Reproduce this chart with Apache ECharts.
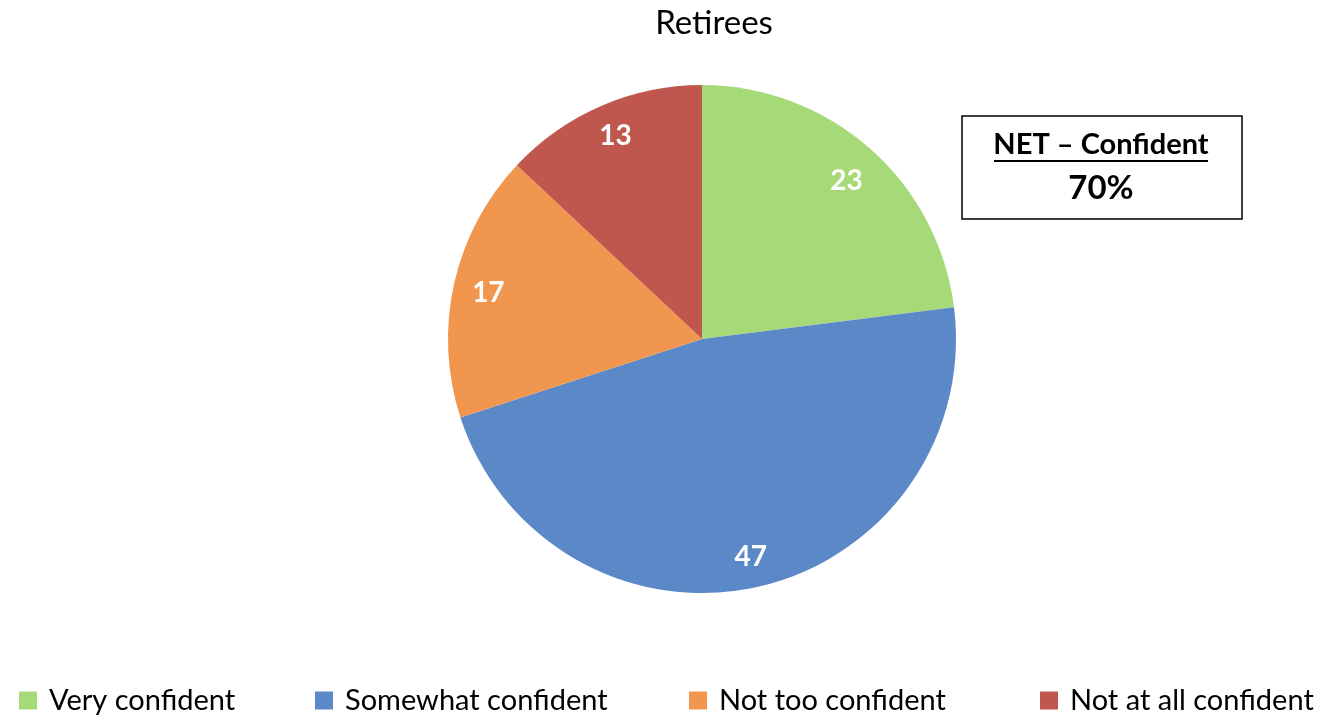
<!DOCTYPE html>
<html>
<head>
<meta charset="utf-8">
<script src="https://cdn.jsdelivr.net/npm/echarts@6/dist/echarts.min.js"></script>
<style>
html,body{margin:0;padding:0;background:#fff;}
#chart{width:1326px;height:716px;}
</style>
</head>
<body>
<div id="chart"></div>
<script>
const categories = ['Very confident', 'Somewhat confident', 'Not too confident', 'Not at all confident'];
const values = [23, 47, 17, 13];
const colors = ['#A6DA78', '#5B89C8', '#F0964F', '#C0574F'];
const titleText = 'Retirees';
const netLabel = 'NET – Confident';
const netValue = '70%';

const FONT = 'Lato, "Open Sans", sans-serif';
const chart = echarts.init(document.getElementById('chart'), null, {renderer: 'canvas'});

const pieData = categories.map((c, i) => ({name: c, value: values[i], itemStyle: {color: colors[i]}}));
const legendLefts = [14, 310, 684, 1035];
const labelOffsets = [[-3, 9], [0, 0], [4, 3], [2, 2]];

const option = {
  animation: false,
  title: {
    text: titleText, left: 709, top: 2, textAlign: 'center',
    textStyle: {fontFamily: FONT, fontSize: 33, fontWeight: 'normal', color: '#000'}
  },
  legend: categories.map((c, i) => ({
    data: [c], left: legendLefts[i], top: 681, itemWidth: 18, itemHeight: 18, itemGap: 0,
    icon: 'rect', selectedMode: false,
    textStyle: {fontFamily: FONT, fontSize: 29, color: '#000', padding: [0, 0, 0, 7]}
  })),
  series: [
    {
      type: 'pie', center: [702, 339], radius: 254, startAngle: 90, clockwise: true,
      data: pieData, label: {show: false}, labelLine: {show: false},
      itemStyle: {borderWidth: 0}, silent: true
    },
    {
      type: 'pie', center: [702, 339], radius: [186, 254], startAngle: 90, clockwise: true,
      data: pieData.map((d, i) => ({name: d.name, value: d.value, itemStyle: {color: 'rgba(0,0,0,0)'}, label: {offset: labelOffsets[i]}})),
      label: {show: true, position: 'inside', formatter: '{c}', color: '#fff', fontFamily: FONT, fontWeight: 'bold', fontSize: 28},
      labelLine: {show: false}, silent: true, legendHoverLink: false
    }
  ],
  graphic: [
    {type: 'rect', shape: {x: 962, y: 116, width: 280, height: 103}, style: {fill: '#fff', stroke: '#000', lineWidth: 1.5}},
    {type: 'text', x: 1101, y: 145, style: {text: netLabel, x: 0, y: 0, align: 'center', verticalAlign: 'middle', font: 'bold 29px ' + FONT, fill: '#000'}},
    {type: 'line', shape: {x1: 994, y1: 161, x2: 1208, y2: 161}, style: {stroke: '#000', lineWidth: 2}},
    {type: 'text', x: 1101, y: 188, style: {text: netValue, x: 0, y: 0, align: 'center', verticalAlign: 'middle', font: 'bold 33px ' + FONT, fill: '#000'}}
  ]
};
chart.setOption(option);
</script>
</body>
</html>
